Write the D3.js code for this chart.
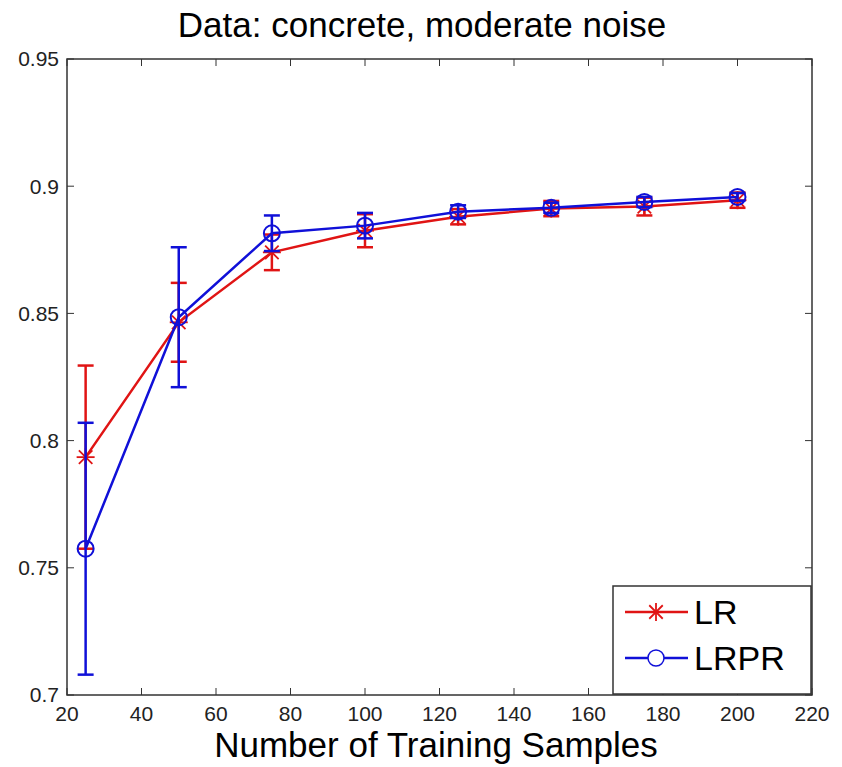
<!DOCTYPE html>
<html>
<head>
<meta charset="utf-8">
<script src="https://cdn.jsdelivr.net/npm/d3@7"></script>
<style>
  body { margin: 0; background: #fff; }
  text { font-family: "Liberation Sans", Arial, sans-serif; }
</style>
</head>
<body>
<script>
// values
var samples = [25, 50, 75, 100, 125, 150, 175, 200];
var lrMean  = [0.7935, 0.8465, 0.8740, 0.8825, 0.8880, 0.8912, 0.8920, 0.8945];
var lrErr   = [0.0360, 0.0155, 0.0070, 0.0065, 0.0030, 0.0030, 0.0035, 0.0030];
var lrprMean = [0.7575, 0.8485, 0.8815, 0.8845, 0.8900, 0.8915, 0.8938, 0.8958];
var lrprErr  = [0.0495, 0.0275, 0.0070, 0.0050, 0.0025, 0.0020, 0.0020, 0.0015];
var xTicks = [20, 40, 60, 80, 100, 120, 140, 160, 180, 200, 220];
var yTicks = [0.7, 0.75, 0.8, 0.85, 0.9, 0.95];
var yLabels = ["0.7", "0.75", "0.8", "0.85", "0.9", "0.95"];

var width = 842, height = 767;
var pLeft = 67, pRight = 812, pTop = 59, pBottom = 695;
var red = "#e01414", blue = "#1010d8";

var svg = d3.select("body").append("svg")
    .attr("width", width)
    .attr("height", height);

var x = d3.scaleLinear().domain([20, 220]).range([pLeft, pRight]);
var y = d3.scaleLinear().domain([0.7, 0.95]).range([pBottom, pTop]);

// box + inward ticks on all four sides
svg.append("rect")
    .attr("x", pLeft).attr("y", pTop)
    .attr("width", pRight - pLeft).attr("height", pBottom - pTop)
    .attr("fill", "none").attr("stroke", "#333").attr("stroke-width", 1.5);

var tl = 7;
xTicks.forEach(function(t) {
  svg.append("line").attr("x1", x(t)).attr("x2", x(t)).attr("y1", pBottom).attr("y2", pBottom - tl)
     .attr("stroke", "#333");
  svg.append("line").attr("x1", x(t)).attr("x2", x(t)).attr("y1", pTop).attr("y2", pTop + tl)
     .attr("stroke", "#333");
});
yTicks.forEach(function(t) {
  svg.append("line").attr("x1", pLeft).attr("x2", pLeft + tl).attr("y1", y(t)).attr("y2", y(t))
     .attr("stroke", "#333");
  svg.append("line").attr("x1", pRight).attr("x2", pRight - tl).attr("y1", y(t)).attr("y2", y(t))
     .attr("stroke", "#333");
});

svg.selectAll(".xt").data(xTicks).enter().append("text")
    .attr("x", function(d) { return x(d); })
    .attr("y", pBottom + 26)
    .attr("text-anchor", "middle")
    .attr("font-size", 21)
    .attr("fill", "#222")
    .text(function(d) { return d; });

svg.selectAll(".yt").data(yTicks).enter().append("text")
    .attr("x", pLeft - 8)
    .attr("y", function(d) { return y(d); })
    .attr("dy", "0.35em")
    .attr("text-anchor", "end")
    .attr("font-size", 21)
    .attr("fill", "#222")
    .text(function(d, i) { return yLabels[i]; });

svg.append("text")
    .attr("x", 422).attr("y", 37)
    .attr("text-anchor", "middle")
    .attr("font-size", 35)
    .text("Data: concrete, moderate noise");

svg.append("text")
    .attr("x", 436).attr("y", 757)
    .attr("text-anchor", "middle")
    .attr("font-size", 35)
    .text("Number of Training Samples");

var line = d3.line()
    .x(function(d) { return x(d[0]); })
    .y(function(d) { return y(d[1]); });

function drawStar(g, cx, cy, color, r) {
  var p = g.append("g").attr("stroke", color).attr("stroke-width", 1.8);
  p.append("line").attr("x1", cx - r).attr("x2", cx + r).attr("y1", cy).attr("y2", cy);
  p.append("line").attr("x1", cx).attr("x2", cx).attr("y1", cy - r).attr("y2", cy + r);
  var d = r * 0.75;
  p.append("line").attr("x1", cx - d).attr("x2", cx + d).attr("y1", cy - d).attr("y2", cy + d);
  p.append("line").attr("x1", cx - d).attr("x2", cx + d).attr("y1", cy + d).attr("y2", cy - d);
}

function drawSeries(mean, err, color, marker) {
  var g = svg.append("g");
  var pts = samples.map(function(s, i) { return [s, mean[i]]; });
  var cap = 8;
  samples.forEach(function(s, i) {
    var cx = x(s);
    g.append("line").attr("x1", cx).attr("x2", cx)
      .attr("y1", y(mean[i] - err[i])).attr("y2", y(mean[i] + err[i]))
      .attr("stroke", color).attr("stroke-width", 2.5);
    [mean[i] - err[i], mean[i] + err[i]].forEach(function(v) {
      g.append("line").attr("x1", cx - cap).attr("x2", cx + cap)
        .attr("y1", y(v)).attr("y2", y(v))
        .attr("stroke", color).attr("stroke-width", 2.5);
    });
  });
  g.append("path").datum(pts)
    .attr("d", line)
    .attr("fill", "none")
    .attr("stroke", color)
    .attr("stroke-width", 2.5);
  pts.forEach(function(p) {
    if (marker === "star") drawStar(g, x(p[0]), y(p[1]), color, 9);
    else g.append("circle").attr("cx", x(p[0])).attr("cy", y(p[1])).attr("r", 8)
          .attr("fill", "none").attr("stroke", color).attr("stroke-width", 2);
  });
}

drawSeries(lrMean, lrErr, red, "star");
drawSeries(lrprMean, lrprErr, blue, "circle");

// legend
var lg = svg.append("g");
lg.append("rect")
    .attr("x", 613).attr("y", 586).attr("width", 198).attr("height", 108)
    .attr("fill", "#fff").attr("stroke", "#333").attr("stroke-width", 1.5);
var legendItems = [["LR", red, "star", 612], ["LRPR", blue, "circle", 658]];
legendItems.forEach(function(it) {
  lg.append("line").attr("x1", 625).attr("x2", 688).attr("y1", it[3]).attr("y2", it[3])
    .attr("stroke", it[1]).attr("stroke-width", 2.5);
  if (it[2] === "star") drawStar(lg, 656, it[3], it[1], 9);
  else lg.append("circle").attr("cx", 656).attr("cy", it[3]).attr("r", 8)
        .attr("fill", "#fff").attr("stroke", it[1]).attr("stroke-width", 1.5);
  lg.append("text").attr("x", 694).attr("y", it[3]).attr("dy", "0.36em")
    .attr("font-size", 34).text(it[0]);
});
</script>
</body>
</html>
